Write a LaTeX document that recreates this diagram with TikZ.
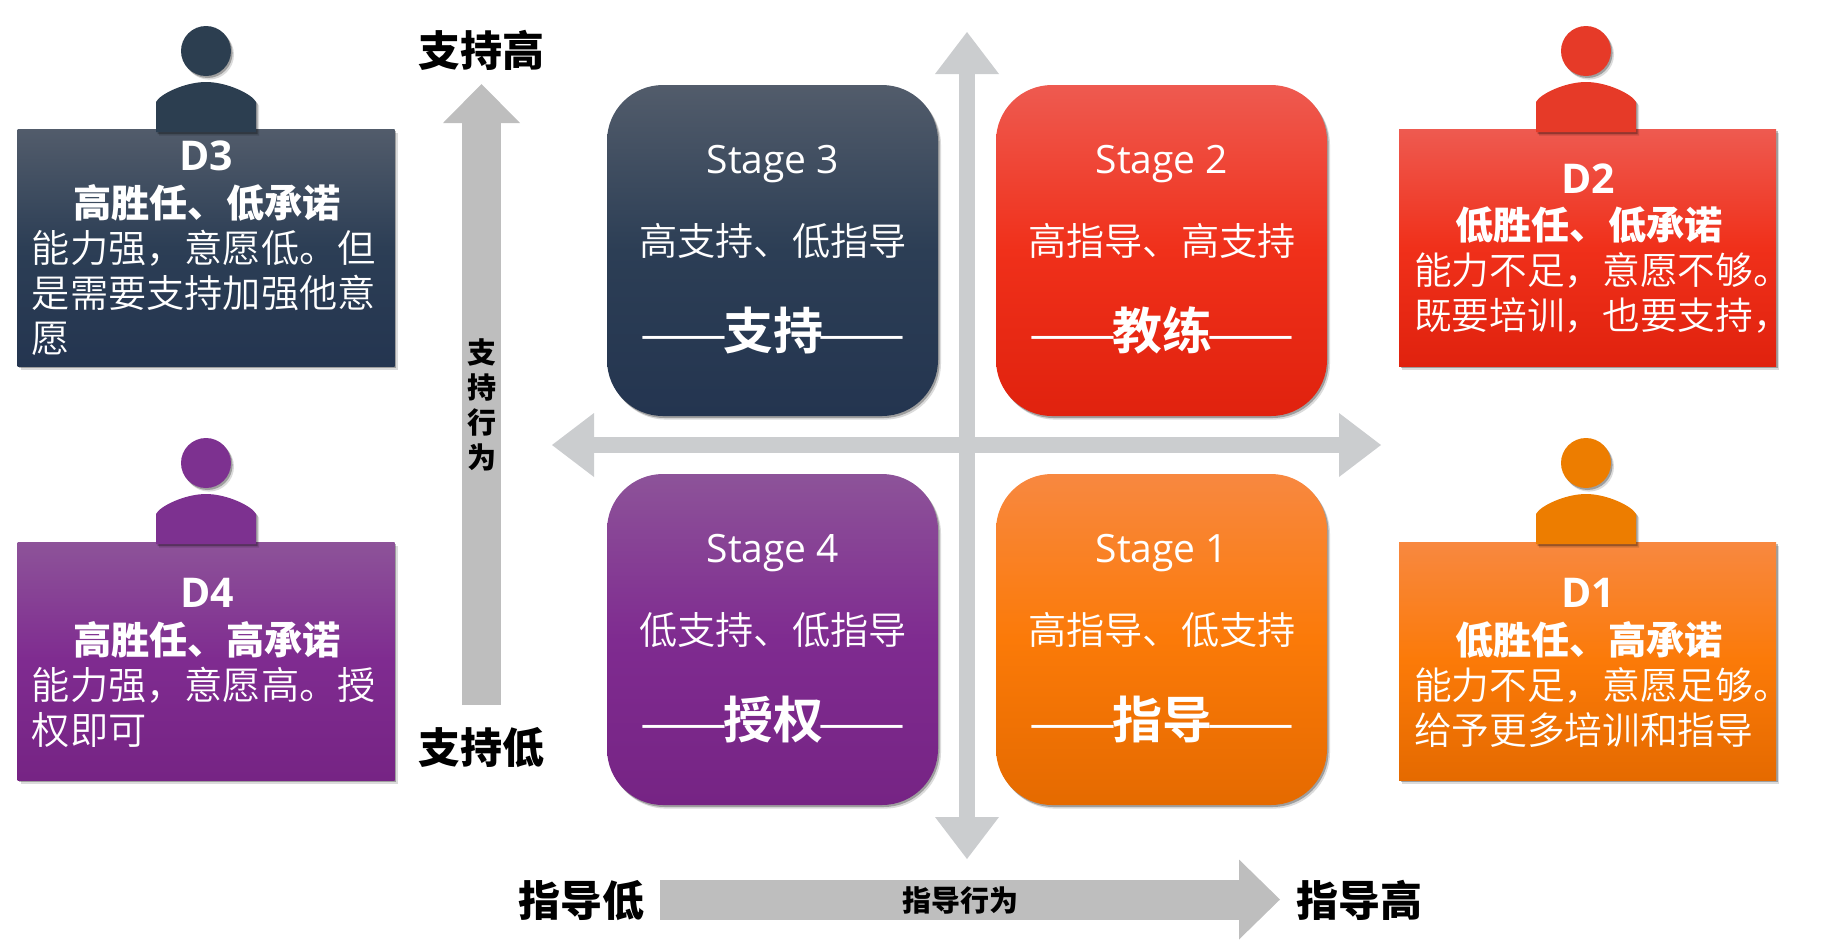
\documentclass[tikz,border=0pt]{standalone}
\usepackage{fontspec}
\usetikzlibrary{shadows,arrows.meta}
\setmainfont{Noto Sans CJK SC}
\newfontfamily\cjklight{Noto Sans CJK SC DemiLight}
\newfontfamily\latinlight{Open Sans}
\newfontfamily\latinbold{Open Sans}[UprightFont=*,BoldFont=* Bold]
\newcommand{\rolerule}{\raisebox{-1.5pt}{\fontsize{26}{28}\selectfont ——}}
\definecolor{d3top}{HTML}{525C6B}\definecolor{d3mid}{HTML}{2C3E55}\definecolor{d3bot}{HTML}{243550}
\definecolor{d2top}{HTML}{EE5A50}\definecolor{d2mid}{HTML}{F0301A}\definecolor{d2bot}{HTML}{E0220E}
\definecolor{d4top}{HTML}{8D5399}\definecolor{d4mid}{HTML}{7F2B90}\definecolor{d4bot}{HTML}{762484}
\definecolor{d1top}{HTML}{F88840}\definecolor{d1mid}{HTML}{FB7A08}\definecolor{d1bot}{HTML}{E56A00}
\definecolor{d3solid}{HTML}{2C3E50}\definecolor{d2solid}{HTML}{E63A28}
\definecolor{d4solid}{HTML}{7D3190}\definecolor{d1solid}{HTML}{ED7D00}
\definecolor{crossgray}{HTML}{CBCDCF}\definecolor{axisgray}{HTML}{BEBEBE}
\begin{document}
\begin{tikzpicture}[x=.5pt,y=-.5pt]
	\tikzstyle{soft}=[drop shadow={shadow xshift=1.5pt,shadow yshift=-1.8pt,opacity=.14,fill=black},drop shadow={shadow xshift=.8pt,shadow yshift=-1pt,opacity=.28,fill=black}]
	\tikzstyle{card}=[soft,shape=rectangle,inner sep=0,outer sep=0,minimum width=188.5pt]
	\tikzstyle{stagebox}=[soft,shape=rectangle,rounded corners=28pt,inner sep=0,outer sep=0,minimum width=165.5pt,minimum height=165.5pt]
	\tikzstyle{head}=[soft,shape=circle,inner sep=0,outer sep=0,minimum size=25pt]
	\tikzstyle{d3c}=[top color=d3top,bottom color=d3bot,middle color=d3mid]
	\tikzstyle{d2c}=[top color=d2top,bottom color=d2bot,middle color=d2mid]
	\tikzstyle{d4c}=[top color=d4top,bottom color=d4bot,middle color=d4mid]
	\tikzstyle{d1c}=[top color=d1top,bottom color=d1bot,middle color=d1mid]
	\tikzstyle{txt}=[inner sep=0,outer sep=0,text=white]
	\tikzstyle{dtitle}=[txt,anchor=base,font=\latinbold\bfseries\fontsize{20.5}{24}\selectfont]
	\tikzstyle{dlead}=[txt,anchor=base,font=\bfseries\fontsize{19.1}{22}\selectfont]
	\tikzstyle{dbody}=[txt,anchor=base west,font=\cjklight\fontsize{18.85}{22}\selectfont]
	\tikzstyle{dbodywide}=[txt,anchor=base west,font=\cjklight\fontsize{19.1}{22}\selectfont]
	\tikzstyle{stagename}=[txt,anchor=base,font=\latinlight\fontsize{19.5}{22}\selectfont]
	\tikzstyle{stagetext}=[txt,anchor=base,font=\cjklight\fontsize{19.1}{22}\selectfont]
	\tikzstyle{stagerole}=[txt,anchor=base,font=\cjklight\fontsize{25}{28}\selectfont]
	\tikzstyle{axislabel}=[inner sep=0,outer sep=0,text=black,anchor=base,font=\bfseries\fontsize{21}{24}\selectfont]
	\tikzstyle{axisname}=[inner sep=0,outer sep=0,text=black,font=\bfseries\fontsize{14.5}{17.5}\selectfont]
	\tikzstyle{crossarrow}=[draw=crossgray,line width=8pt,{Triangle[length=21pt,width=32pt,line width=0pt]}-{Triangle[length=21pt,width=32pt,line width=0pt]}]
	\tikzstyle{axisarrow}=[draw=axisgray,line width=20pt,-{Triangle[length=20.5pt,width=40pt,line width=0pt]}]
	\tikzstyle{supportarrow}=[draw=axisgray,line width=19.25pt,-{Triangle[length=19.5pt,width=38.5pt,line width=0pt]}]

	\useasboundingbox (0,0) rectangle (1822,950);

	% cross in the middle
	\coordinate (xl) at (552,445);
	\coordinate (xr) at (1381,445);
	\coordinate (yt) at (967,32);
	\coordinate (yb) at (967,859);
	\draw[crossarrow] (xl) -- (xr);
	\draw[crossarrow] (yb) -- (yt);

	% stages
	\node[stagebox,d3c](s3) at (772.5,250.5){};
	\node[stagebox,d2c](s2) at (1161.5,250.5){};
	\node[stagebox,d4c](s4) at (772.5,639.5){};
	\node[stagebox,d1c](s1) at (1161.5,639.5){};

	\node[stagename](s3a) at (773,173){Stage 3};
	\node[stagetext](s3b) at (773,255){高支持、低指导};
	\node[stagerole](s3c) at (773,349){\rolerule\kern-2.4pt{\bfseries 支持}\kern-2.4pt\rolerule};
	\node[stagename](s2a) at (1162,173){Stage 2};
	\node[stagetext](s2b) at (1162,255){高指导、高支持};
	\node[stagerole](s2c) at (1162,349){\rolerule\kern-2.4pt{\bfseries 教练}\kern-2.4pt\rolerule};
	\node[stagename](s4a) at (773,562){Stage 4};
	\node[stagetext](s4b) at (773,644){低支持、低指导};
	\node[stagerole](s4c) at (773,738){\rolerule\kern-2.4pt{\bfseries 授权}\kern-2.4pt\rolerule};
	\node[stagename](s1a) at (1162,562){Stage 1};
	\node[stagetext](s1b) at (1162,644){高指导、低支持};
	\node[stagerole](s1c) at (1162,738){\rolerule\kern-2.4pt{\bfseries 指导}\kern-2.4pt\rolerule};

	% D3
	\node[card,d3c,minimum height=118.5pt](d3) at (206,247.5){};
	\node[head,fill=d3solid](d3h) at (206,51){};
	\fill[soft,d3solid] (156,132) -- (156,102) .. controls (160,94) and (185,82) .. (206,82) .. controls (227,82) and (252,94) .. (256,102) -- (256,132) -- cycle;
	\node[dtitle](d3a) at (206,170){D3};
	\node[dlead](d3b) at (207,217.5){高胜任、低承诺};
	\node[dbodywide](d3c1) at (32,262){能力强，意愿低。但};
	\node[dbodywide](d3c2) at (32,307){是需要支持加强他意};
	\node[dbodywide](d3c3) at (32,352){愿};

	% D2
	\node[card,d2c,minimum height=118.5pt](d2) at (1587.5,247.5){};
	\node[head,fill=d2solid](d2h) at (1586,51){};
	\fill[soft,d2solid] (1536,132) -- (1536,102) .. controls (1540,94) and (1565,82) .. (1586,82) .. controls (1607,82) and (1632,94) .. (1636,102) -- (1636,132) -- cycle;
	\node[dtitle](d2a) at (1588,193){D2};
	\node[dlead](d2b) at (1589,239.5){低胜任、低承诺};
	\node[dbody](d2c1) at (1414,284){能力不足，意愿不够。};
	\node[dbody](d2c2) at (1414,329){既要培训，也要支持，};

	% D4
	\node[card,d4c,minimum height=119pt](d4) at (206,661){};
	\node[head,fill=d4solid](d4h) at (206,463){};
	\fill[soft,d4solid] (156,544) -- (156,514) .. controls (160,506) and (185,494) .. (206,494) .. controls (227,494) and (252,506) .. (256,514) -- (256,544) -- cycle;
	\node[dtitle](d4a) at (207,607){D4};
	\node[dlead](d4b) at (207,654.5){高胜任、高承诺};
	\node[dbodywide](d4c1) at (32,699){能力强，意愿高。授};
	\node[dbodywide](d4c2) at (32,744){权即可};

	% D1
	\node[card,d1c,minimum height=119pt](d1) at (1587.5,661){};
	\node[head,fill=d1solid](d1h) at (1586,463){};
	\fill[soft,d1solid] (1536,544) -- (1536,514) .. controls (1540,506) and (1565,494) .. (1586,494) .. controls (1607,494) and (1632,506) .. (1636,514) -- (1636,544) -- cycle;
	\node[dtitle](d1a) at (1588,607){D1};
	\node[dlead](d1b) at (1589,654.5){低胜任、高承诺};
	\node[dbody](d1c1) at (1414,699){能力不足，意愿足够。};
	\node[dbody](d1c2) at (1414,744){给予更多培训和指导};

	% axes
	\coordinate (ls) at (481.5,705);
	\coordinate (le) at (481.5,84);
	\coordinate (bs) at (660,899.5);
	\coordinate (be) at (1280,899.5);
	\draw[supportarrow] (ls) -- (le);
	\draw[axisarrow] (bs) -- (be);
	\node[axislabel](high1) at (481,66){支持高};
	\node[axislabel](low1) at (481,763){支持低};
	\node[axislabel](low2) at (581,916){指导低};
	\node[axislabel](high2) at (1359,916){指导高};
	\node[axisname,align=center](vname) at (481.5,405){支\\持\\行\\为};
	\node[axisname](hname) at (960,900){指导行为};
\end{tikzpicture}
\end{document}
